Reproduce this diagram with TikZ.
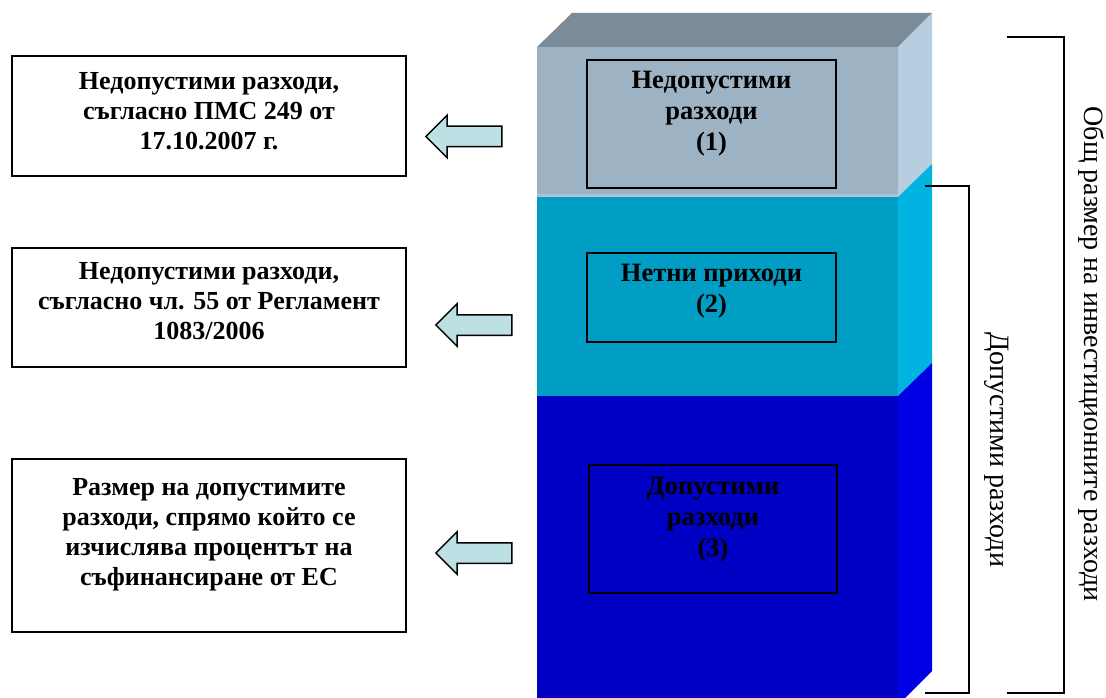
\documentclass[tikz,border=0pt]{standalone}
\usepackage{fontspec}
\setmainfont{Liberation Serif}
\usetikzlibrary{shapes.arrows}
\definecolor{topc}{HTML}{7B8B97}
\definecolor{grayf}{HTML}{9DB3C3}
\definecolor{grayl}{HTML}{AEC2D0}
\definecolor{grays}{HTML}{B6CEE0}
\definecolor{cyanf}{HTML}{009DC4}
\definecolor{cyans}{HTML}{00B3E0}
\definecolor{bluef}{HTML}{0000C4}
\definecolor{blues}{HTML}{0000E4}
\definecolor{arrowc}{HTML}{BCE0E3}
\begin{document}
\begin{tikzpicture}[x=1pt,y=-1pt,
  lbl/.style={font=\bfseries\fontsize{26}{30}\selectfont, align=center, inner sep=0pt},
  ilbl/.style={font=\bfseries\fontsize{26.5}{31}\selectfont, align=center, inner sep=0pt},
  inbox/.style={draw=black, line width=1.5pt, inner sep=0pt},
  sidebox/.style={draw=black, line width=1.5pt, fill=white, inner sep=0pt},
  larrow/.style={single arrow, draw=black, line width=1.5pt, fill=arrowc, shape border rotate=180,
    minimum height=76pt, inner xsep=0pt, inner ysep=9.5pt, text height=0pt, text depth=0pt,
    single arrow head extend=11pt},
  brk/.style={line width=1.5pt},
  vlbl/.style={rotate=-90, inner sep=0pt, font=\fontsize{28}{28}\selectfont}]
\useasboundingbox (0,0) rectangle (1106,698);
\begin{scope}
\clip (0,0) rectangle (1106,698);
% top face
\fill[topc] (537,47) -- (572,13) -- (932,13) -- (898,47) -- cycle;
% grey layer
\fill[grayf] (537,47) rectangle (898,197);
\fill[grayl] (537,194) rectangle (898,197);
\fill[grays] (898,47) -- (932,13) -- (932,164) -- (898,197) -- cycle;
% cyan layer
\fill[cyanf] (537,197) rectangle (898,396);
\fill[cyans] (898,197) -- (932,164) -- (932,363) -- (898,396) -- cycle;
% blue layer
\fill[bluef] (537,396) rectangle (898,710);
\fill[blues] (898,396) -- (932,363) -- (932,671) -- (898,705) -- cycle;
\end{scope}

% inner boxes
\node[inbox, minimum width=249pt, minimum height=128pt] (b1) at (711.5,124) {};
\node[ilbl] (t1) at (711.5,114) {Недопустими\\разходи\\(1)};
\node[inbox, minimum width=249pt, minimum height=89pt] (b2) at (711.5,297.5) {};
\node[ilbl] (t2) at (711.5,291) {Нетни приходи\\(2)};
\node[inbox, minimum width=248pt, minimum height=128pt] (b3) at (713,529) {};
\node[ilbl] (t3) at (713,520) {Допустими\\разходи\\(3)};

% left boxes
\node[sidebox, minimum width=394pt, minimum height=120pt] (l1) at (209,116) {};
\node[lbl] (lt1) at (209,111) {Недопустими разходи,\\съгласно ПМС 249 от\\17.10.2007 г.};
\node[sidebox, minimum width=394pt, minimum height=119pt] (l2) at (209,307.5) {};
\node[lbl] (lt2) at (209,301) {Недопустими разходи,\\съгласно чл. 55 от Регламент\\1083/2006};
\node[sidebox, minimum width=394pt, minimum height=173pt] (l3) at (209,545.5) {};
\node[lbl] (lt3) at (209,535) {Размер на допустимите\\разходи, спрямо който се\\изчислява процентът на\\съфинансиране от ЕС};

% arrows
\node[larrow] (a1) at (469,136.5) {};
\node[larrow] (a2) at (479,325) {};
\node[larrow] (a3) at (479,553) {};

% brackets
\coordinate (ib1) at (925,186);
\coordinate (ib2) at (969,186);
\coordinate (ib3) at (969,693);
\coordinate (ib4) at (925,693);
\draw[brk] (ib1) -- (ib2) -- (ib3) -- (ib4);
\coordinate (ob1) at (1007,37);
\coordinate (ob2) at (1064,37);
\coordinate (ob3) at (1064,693);
\coordinate (ob4) at (1007,693);
\draw[brk] (ob1) -- (ob2) -- (ob3) -- (ob4);

% vertical labels
\node[vlbl] (v1) at (997,450) {Допустими разходи};
\node[vlbl] (v2) at (1092,354) {Общ размер на инвестиционните разходи};
\end{tikzpicture}
\end{document}
